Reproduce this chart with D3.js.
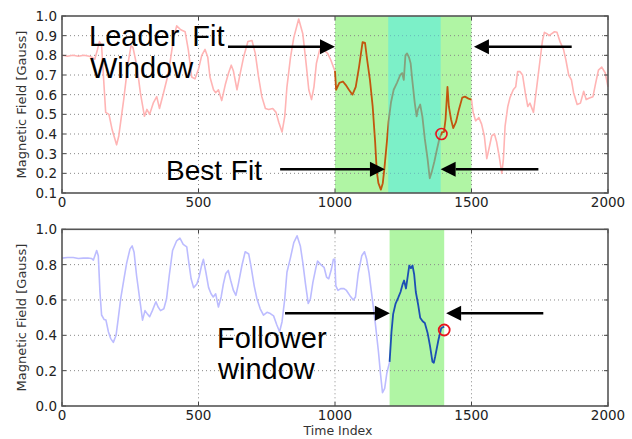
<!DOCTYPE html>
<html><head><meta charset="utf-8">
<script src="https://cdn.jsdelivr.net/npm/d3@7"></script>
<style>body{margin:0;background:#fff}svg{display:block}</style>
</head><body>
<svg id="c" width="632" height="439"></svg>
<script>
// ---- data ----
const leaderT=[0,20,40,60,80,100,110,120,130,137,145,152,160,172,184,200,208,226,242,253,260,275,287,302,311,321,335,347,357,372,390,408,420,435,451,463,475,487,500,512,524,534,542,555,563,573,585,598,610,620,628,641,653,665,681,696,708,720,732,745,757,772,784,794,806,816,824,837,849,867,882,894,904,914,923,932,944,960,973,985,997,
1000,1004,1016,1029,1039,1051,1064,1076,1088,1101,1110,1118,1128,1138,1147,1153,1159,1168,1175,1181,1190,1196,1205,1215,1227,1239,1246,1252,1258,1264,1271,1277,1283,1292,1299,1304,1312,1320,1329,1339,1347,1355,1364,1374,1383,1392,1399,1405,1412,1417,1425,1433,1443,1454,1466,1476,1489,1500,
1506,1515,1527,1537,1547,1556,1564,1574,1584,1592,1601,1611,1617,1623,1633,1641,1653,1662,1669,1678,1687,1697,1706,1714,1727,1739,1751,1760,1767,1776,1784,1794,1804,1813,1825,1837,1846,1856,1866,1874,1887,1899,1911,1920,1932,1945,1955,1965,1977,1990,2000];
const leaderV=[0.80,0.795,0.80,0.795,0.80,0.795,0.79,0.78,0.83,0.87,0.85,0.69,0.51,0.50,0.42,0.345,0.39,0.575,0.76,0.85,0.84,0.74,0.61,0.49,0.525,0.50,0.56,0.59,0.53,0.61,0.71,0.88,0.95,0.93,0.92,0.825,0.69,0.68,0.73,0.80,0.83,0.79,0.69,0.625,0.61,0.625,0.57,0.65,0.71,0.75,0.72,0.625,0.71,0.79,0.87,0.875,0.81,0.69,0.59,0.53,0.525,0.53,0.51,0.46,0.41,0.49,0.64,0.79,0.89,0.985,0.91,0.76,0.625,0.575,0.64,0.76,0.83,0.825,0.81,0.775,0.73,
0.72,0.625,0.66,0.667,0.65,0.625,0.60,0.64,0.74,0.867,0.863,0.775,0.675,0.54,0.36,0.21,0.15,0.117,0.15,0.225,0.36,0.46,0.56,0.625,0.66,0.70,0.71,0.675,0.80,0.81,0.79,0.76,0.675,0.56,0.49,0.525,0.55,0.49,0.375,0.275,0.175,0.21,0.26,0.325,0.38,0.41,0.41,0.475,0.64,0.54,0.475,0.43,0.46,0.525,0.585,0.59,0.58,0.575,
0.51,0.467,0.483,0.45,0.39,0.275,0.325,0.39,0.40,0.36,0.29,0.20,0.275,0.44,0.54,0.585,0.625,0.64,0.717,0.717,0.70,0.61,0.54,0.557,0.51,0.64,0.775,0.875,0.917,0.91,0.90,0.91,0.92,0.917,0.867,0.83,0.775,0.70,0.675,0.61,0.55,0.557,0.617,0.575,0.583,0.59,0.66,0.725,0.74,0.71,0.64];

const followerT=[0,20,41,60,78,95,108,115,127,133,139,145,154,161,170,178,188,198,206,215,227,237,249,257,264,273,286,295,304,313,321,331,344,352,361,373,383,393,405,420,432,444,457,463,473,482,494,502,512,518,527,537,546,554,563,573,583,591,600,609,618,628,637,646,659,671,684,693,704,714,726,738,751,763,775,787,797,806,816,824,837,849,861,873,882,892,902,910,919,929,936,948,960,969,977,987,994,999,1003,1011,1021,1033,1042,1054,1067,1075,1085,1098,1108,1116,1125,1135,1147,1159,1167,1174,1182,1190,
1200,1207,1213,1222,1232,1240,1248,1253,1260,1266,1272,1278,1284,1290,1296,1305,1312,1321,1329,1339,1348,1357,1362,1367,1379,1389,1400];
const followerV=[0.837,0.84,0.84,0.835,0.837,0.838,0.835,0.826,0.88,0.85,0.645,0.515,0.49,0.486,0.42,0.383,0.36,0.40,0.495,0.607,0.72,0.81,0.888,0.906,0.87,0.74,0.59,0.486,0.54,0.52,0.505,0.54,0.59,0.56,0.54,0.55,0.607,0.74,0.88,0.935,0.95,0.915,0.90,0.83,0.72,0.67,0.69,0.73,0.80,0.83,0.757,0.67,0.635,0.617,0.635,0.56,0.617,0.69,0.75,0.767,0.71,0.654,0.626,0.69,0.795,0.873,0.86,0.785,0.68,0.607,0.55,0.514,0.53,0.523,0.51,0.458,0.42,0.477,0.607,0.757,0.84,0.925,0.963,0.906,0.813,0.69,0.58,0.607,0.70,0.775,0.82,0.80,0.785,0.73,0.72,0.775,0.83,0.83,0.68,0.654,0.664,0.664,0.654,0.626,0.60,0.617,0.75,0.85,0.873,0.83,0.75,0.626,0.477,0.31,0.177,0.075,0.10,0.187,
0.25,0.42,0.52,0.58,0.615,0.645,0.69,0.71,0.665,0.73,0.795,0.78,0.795,0.745,0.645,0.57,0.50,0.48,0.47,0.415,0.34,0.25,0.245,0.28,0.375,0.44,0.45];

const xTicks=[0,500,1000,1500,2000];
const topYTicks=[0.1,0.2,0.3,0.4,0.5,0.6,0.7,0.8,0.9,1.0];
const botYTicks=[0.0,0.2,0.4,0.6,0.8,1.0];
const leaderWindow=[1000,1500];
const bestFitWindow=[1195,1387];
const followerWindow=[1200,1400];
const leaderMark=[1390,0.40];
const followerMark=[1400,0.43];
// arrows: [fromT, toT, value]
const topArrows=[[608,1000,0.844],[1867,1509,0.844],[799,1183,0.221],[1745,1387,0.221]];
const botArrows=[[817,1201,0.525],[1763,1407,0.525]];

// ---- drawing ----
const svg=d3.select("#c");
const L=62,R=608;
const x=d3.scaleLinear().domain([0,2000]).range([L,R]);
const panels=[
  {top:16,bottom:193,dom:[0.1,1.0],ticks:topYTicks,fmt:d3.format(".1f")},
  {top:229.3,bottom:406,dom:[0,1.0],ticks:botYTicks,fmt:d3.format(".1f")}
];
panels.forEach(p=>{p.y=d3.scaleLinear().domain(p.dom).range([p.bottom,p.top]);});
const TICKFONT="DejaVu Sans, sans-serif";
const BIGFONT="Liberation Sans, Arial, sans-serif";

function band(g,p,r,fill,op){
  g.append("rect").attr("x",x(r[0])).attr("y",p.top).attr("width",x(r[1])-x(r[0]))
   .attr("height",p.bottom-p.top).attr("fill",fill).attr("fill-opacity",op);
}
function grid(g,p){
  xTicks.slice(1,-1).forEach(t=>g.append("line").attr("x1",x(t)).attr("x2",x(t)).attr("y1",p.top).attr("y2",p.bottom)
     .attr("stroke","#888").attr("stroke-width",1).attr("stroke-dasharray","1,3"));
  p.ticks.slice(1,-1).forEach(v=>g.append("line").attr("x1",L).attr("x2",R).attr("y1",p.y(v)).attr("y2",p.y(v))
     .attr("stroke","#888").attr("stroke-width",1).attr("stroke-dasharray","1,3"));
}
function series(T,V,lo,hi){
  const out=[];T.forEach((t,i)=>{if(t>=lo&&t<=hi)out.push([t,V[i]]);});return out;
}
function drawLine(g,p,pts,color,w){
  const line=d3.line().x(d=>x(d[0])).y(d=>p.y(d[1]));
  g.append("path").attr("d",line(pts)).attr("fill","none").attr("stroke",color)
   .attr("stroke-width",w).attr("stroke-linejoin","round");
}
function frame(g,p){
  xTicks.forEach(t=>{
    g.append("line").attr("x1",x(t)).attr("x2",x(t)).attr("y1",p.bottom).attr("y2",p.bottom-4).attr("stroke","#444");
    g.append("line").attr("x1",x(t)).attr("x2",x(t)).attr("y1",p.top).attr("y2",p.top+4).attr("stroke","#444");
  });
  p.ticks.forEach(v=>{
    g.append("line").attr("x1",L).attr("x2",L+4).attr("y1",p.y(v)).attr("y2",p.y(v)).attr("stroke","#444");
    g.append("line").attr("x1",R).attr("x2",R-4).attr("y1",p.y(v)).attr("y2",p.y(v)).attr("stroke","#444");
  });
  g.append("rect").attr("x",L).attr("y",p.top).attr("width",R-L).attr("height",p.bottom-p.top)
   .attr("fill","none").attr("stroke","#555").attr("stroke-width",1.6);
  xTicks.forEach(t=>g.append("text").attr("x",x(t)).attr("y",p.bottom+13.5).attr("text-anchor","middle")
    .attr("font-family",TICKFONT).attr("font-size",13.5).attr("fill","#222").text(t));
  p.ticks.forEach(v=>g.append("text").attr("x",L-5).attr("y",p.y(v)).attr("dy","0.36em").attr("text-anchor","end")
    .attr("font-family",TICKFONT).attr("font-size",13.5).attr("fill","#222").text(p.fmt(v)));
  g.append("text").attr("transform",`translate(21,${(p.top+p.bottom)/2}) rotate(-90)`).attr("dy","0.35em")
    .attr("text-anchor","middle").attr("font-family",TICKFONT).attr("font-size",13).attr("fill","#333")
    .text("Magnetic Field [Gauss]");
}
function arrow(g,p,a){
  const x0=x(a[0]),x1=x(a[1]),yy=p.y(a[2]);
  const dir=Math.sign(x1-x0),hl=15,hw=7.5;
  g.append("line").attr("x1",x0).attr("x2",x1-dir*hl).attr("y1",yy).attr("y2",yy)
   .attr("stroke","#000").attr("stroke-width",2.5);
  g.append("path").attr("d",`M${x1},${yy}L${x1-dir*hl},${yy-hw}L${x1-dir*hl},${yy+hw}Z`).attr("fill","#000");
}

// Top panel
{
  const p=panels[0];
  const g=svg.append("g");
  band(g,p,leaderWindow,"#b0f5a4",1);
  grid(g,p);
  drawLine(g,p,series(leaderT,leaderV,0,leaderWindow[0]),"#ffb4b4",1.6);
  drawLine(g,p,series(leaderT,leaderV,leaderWindow[1],2000),"#ffb4b4",1.6);
  drawLine(g,p,series(leaderT,leaderV,leaderWindow[0],leaderWindow[1]),"#c2560e",1.8);
  band(g,p,bestFitWindow,"rgb(72,235,235)",0.5);
  g.append("circle").attr("cx",x(leaderMark[0])).attr("cy",p.y(leaderMark[1])).attr("r",5.5)
   .attr("fill","none").attr("stroke","#e8141e").attr("stroke-width",1.6);
  frame(g,p);
  topArrows.forEach(a=>arrow(g,p,a));
  g.append("text").attr("x",89).attr("y",46).attr("font-family",BIGFONT).attr("font-size",29)
   .attr("word-spacing","5px").attr("fill","#000").text("Leader Fit");
  g.append("text").attr("x",90).attr("y",77.5).attr("font-family",BIGFONT).attr("font-size",29)
   .attr("fill","#000").text("Window");
  g.append("text").attr("x",166).attr("y",180).attr("font-family",BIGFONT).attr("font-size",28)
   .attr("word-spacing","1px").attr("fill","#000").text("Best Fit");
}
// Bottom panel
{
  const p=panels[1];
  const g=svg.append("g");
  band(g,p,followerWindow,"#b0f5a4",1);
  grid(g,p);
  drawLine(g,p,series(followerT,followerV,0,followerWindow[0]),"#bcbcff",1.6);
  drawLine(g,p,series(followerT,followerV,followerWindow[0],followerWindow[1]),"#1c4fb4",1.8);
  g.append("circle").attr("cx",x(followerMark[0])).attr("cy",p.y(followerMark[1])).attr("r",5.5)
   .attr("fill","none").attr("stroke","#e8141e").attr("stroke-width",1.8);
  frame(g,p);
  botArrows.forEach(a=>arrow(g,p,a));
  g.append("text").attr("x",217).attr("y",347.5).attr("font-family",BIGFONT).attr("font-size",29)
   .attr("fill","#000").text("Follower");
  g.append("text").attr("x",218).attr("y",378.5).attr("font-family",BIGFONT).attr("font-size",29)
   .attr("fill","#000").text("window");
  g.append("text").attr("x",338).attr("y",434.5).attr("text-anchor","middle").attr("font-family",TICKFONT)
   .attr("font-size",12.5).attr("fill","#333").text("Time Index");
}
</script>
</body></html>
